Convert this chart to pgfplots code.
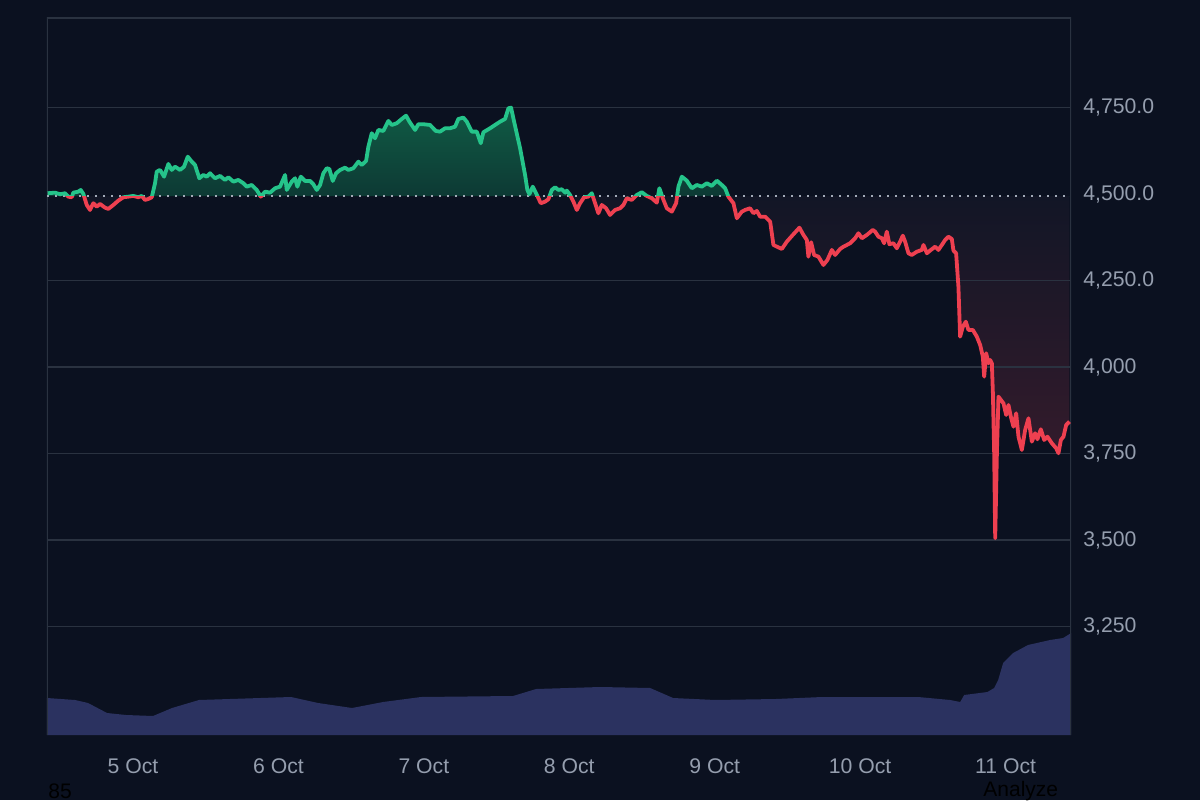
\documentclass[border=0pt]{standalone}
\usepackage{pgfplots}
\pgfplotsset{compat=1.18}
\usepackage{pgfplotstable}
\usepackage{fontspec}
\setmainfont{Liberation Sans}
\definecolor{bg}{HTML}{0B1120}
\definecolor{gridc}{HTML}{2A3240}
\definecolor{tickc}{HTML}{959EAE}
\definecolor{gline}{HTML}{25C48A}
\definecolor{rline}{HTML}{EE4050}
\definecolor{gtop}{HTML}{105C45}
\definecolor{gbot}{HTML}{0D3934}
\definecolor{rtop}{HTML}{121626}
\definecolor{rbot}{HTML}{3E1C2D}
\definecolor{volc}{HTML}{2B3260}
\definecolor{basec}{HTML}{A3ABB8}
\pgfdeclareverticalshading{gshade}{100bp}{color(0bp)=(gbot); color(64.7bp)=(gbot); color(75bp)=(gtop); color(100bp)=(gtop)}
\pgfdeclareverticalshading{rshade}{100bp}{color(0bp)=(rbot); color(25bp)=(rbot); color(64.7bp)=(rtop); color(100bp)=(rtop)}

\pgfplotstableread{
h p
-14.10 4502.6
-12.87 4504.3
-12.05 4499.7
-11.22 4502.6
-10.68 4492.7
-10.12 4491.0
-9.85 4504.3
-9.03 4507.2
-8.63 4512.1
-8.20 4500.5
-7.64 4468.7
-7.10 4454.3
-6.55 4473.7
-5.99 4463.8
-5.45 4471.6
-4.62 4460.9
-4.08 4457.2
-3.25 4468.7
-2.43 4481.2
-1.60 4491.0
-0.78 4492.7
0.05 4494.8
0.87 4491.0
1.44 4494.8
1.98 4483.2
2.53 4486.1
3.09 4491.0
3.63 4531.5
3.91 4565.0
4.46 4569.9
5.12 4550.5
5.83 4587.2
6.39 4569.9
6.93 4579.4
7.76 4569.9
8.42 4579.4
9.03 4608.3
9.69 4593.9
10.23 4584.3
10.94 4545.9
11.60 4555.4
12.16 4550.5
12.71 4560.4
13.53 4545.9
14.36 4552.6
15.19 4541.0
15.73 4548.8
16.56 4536.1
17.38 4541.0
18.21 4531.5
18.77 4521.6
19.59 4526.5
20.42 4512.1
21.08 4492.7
21.79 4507.2
22.61 4504.3
23.44 4517.0
24.26 4521.6
25.09 4555.4
25.37 4512.1
26.19 4536.1
26.74 4545.9
27.12 4521.6
27.68 4550.5
28.39 4538.1
29.22 4538.1
29.76 4528.6
30.32 4512.1
30.87 4526.5
31.41 4560.4
31.97 4574.8
32.40 4572.8
32.96 4538.1
33.51 4560.4
34.17 4569.9
34.99 4576.5
35.54 4569.9
36.36 4574.8
37.19 4593.9
37.75 4584.3
38.46 4595.9
38.84 4637.2
39.40 4676.0
39.94 4661.5
40.49 4685.5
41.31 4682.6
42.14 4711.5
42.70 4699.9
43.52 4704.9
44.35 4717.3
45.06 4726.8
45.61 4709.5
46.55 4685.5
47.09 4702.0
47.92 4702.0
49.02 4699.9
49.96 4682.6
50.67 4680.6
51.50 4690.4
52.32 4690.4
53.15 4695.0
53.69 4717.3
54.52 4721.0
55.08 4709.5
55.91 4680.6
56.73 4680.6
57.39 4647.1
57.82 4678.9
58.93 4690.4
59.75 4699.9
60.58 4709.5
61.40 4717.3
61.95 4748.2
62.39 4749.9
62.89 4709.5
63.88 4632.6
64.70 4555.4
65.08 4512.1
65.41 4499.7
65.97 4521.6
66.52 4502.6
67.29 4473.7
68.00 4478.3
68.55 4485.2
69.11 4512.1
69.66 4519.9
70.20 4512.1
70.76 4514.1
71.31 4504.3
71.59 4510.1
72.13 4497.6
72.68 4478.3
73.24 4454.3
73.78 4473.7
74.44 4491.0
75.15 4492.7
75.71 4502.6
76.26 4473.7
76.80 4444.8
77.36 4468.7
78.07 4459.2
78.73 4439.8
79.56 4454.3
80.38 4459.2
80.93 4468.7
81.49 4488.1
82.31 4483.2
83.14 4497.6
83.97 4505.5
84.79 4494.8
85.62 4488.1
86.44 4475.4
86.87 4517.0
87.43 4488.1
88.09 4459.2
88.92 4449.4
89.63 4473.7
90.01 4521.6
90.57 4550.5
91.39 4539.0
92.22 4517.0
93.04 4526.5
93.87 4521.6
94.70 4531.5
95.52 4523.7
96.35 4539.0
97.17 4526.5
97.72 4517.0
98.26 4492.7
99.09 4473.7
99.65 4430.3
100.47 4449.4
101.01 4454.3
101.84 4459.2
102.39 4444.8
102.95 4451.4
103.49 4434.9
104.32 4434.9
105.15 4420.5
105.69 4353.1
106.25 4348.2
107.08 4341.6
107.90 4362.7
108.99 4384.1
109.98 4403.1
110.64 4382.0
111.20 4367.6
111.46 4319.3
111.91 4361.0
112.40 4324.2
113.12 4319.3
113.94 4295.3
114.60 4309.8
115.33 4338.7
115.87 4324.2
116.70 4341.6
117.24 4348.2
117.80 4353.1
118.35 4358.1
119.17 4372.5
119.72 4387.0
120.28 4372.5
121.10 4382.0
122.09 4396.5
122.47 4391.6
123.02 4377.1
123.58 4372.5
123.96 4358.1
124.40 4391.6
124.83 4355.2
125.49 4358.1
126.05 4343.6
126.60 4362.7
127.04 4380.0
127.42 4362.7
127.97 4329.2
128.53 4324.2
129.36 4333.8
130.18 4338.7
130.45 4353.1
131.01 4329.2
131.67 4338.7
132.38 4348.2
132.92 4338.7
133.48 4353.1
134.03 4367.6
134.57 4377.1
135.13 4370.5
135.40 4336.7
135.84 4329.2
136.22 4232.6
136.50 4088.1
136.95 4117.0
137.44 4131.5
137.87 4107.5
138.60 4107.5
139.26 4088.1
139.81 4064.1
140.25 4030.3
140.47 3972.5
140.80 4040.2
141.18 4011.2
141.46 4020.8
141.74 4011.2
141.91 3924.6
142.12 3751.2
142.29 3505.5
142.57 3751.2
142.83 3914.7
143.23 3905.2
143.65 3895.7
144.10 3861.8
144.48 3890.7
144.87 3856.9
145.30 3828.0
145.75 3866.8
146.13 3799.1
146.69 3760.7
147.23 3818.5
147.78 3852.3
148.34 3784.7
148.88 3809.0
149.26 3791.6
149.82 3820.5
150.37 3789.6
150.91 3799.1
151.64 3780.1
152.35 3765.6
152.73 3751.2
153.13 3789.6
153.56 3799.1
154.00 3832.9
154.55 3842.5
}\pricedata

\pgfplotstableread{
h v
-14.20 37
-9.57 35
-7.43 32
-4.29 22
-1.16 20
3.30 19
6.44 27
10.89 35
16.01 36
26.08 38
30.54 32
36.15 27
41.27 33
47.54 38
62.72 39
66.52 46
77.08 48
85.34 47
89.13 37
96.07 35
106.13 36
113.73 38
129.57 38
134.86 35
136.51 33
137.17 40
141.00 43
142.12 47
142.78 55
143.60 72
145.25 82
147.70 90
151.36 95
153.50 97
154.83 102
}\voldata

\begin{document}
\begin{tikzpicture}
\useasboundingbox (-23.5pt,-32.5pt) rectangle (576.5pt,367.5pt);
\fill[bg] (-23.5pt,-32.5pt) rectangle (576.5pt,367.5pt);

% volume
\begin{axis}[scale only axis, width=512pt, height=358.5pt, at={(0pt,0pt)}, anchor=south west,
  xmin=-14.2, xmax=154.8, ymin=0, ymax=717, hide axis]
\addplot[fill=volc, draw=none] table[x=h,y=v] {\voldata} \closedcycle;
\end{axis}

% price
\begin{axis}[scale only axis, width=512pt, height=358.5pt, at={(0pt,0pt)}, anchor=south west,
  xmin=-14.2, xmax=154.8, ymin=2937, ymax=5009,
  axis line style={draw=none}, major tick length=0pt, tick style={draw=none},
  xtick={0,24,48,72,96,120,144},
  xticklabels={5 Oct,6 Oct,7 Oct,8 Oct,9 Oct,10 Oct,11 Oct},
  xticklabel style={font=\fontsize{10.6}{12}\selectfont, text=tickc, anchor=center, yshift=-15.5pt},
  ytick={3250,3500,3750,4000,4250,4500,4750},
  yticklabels={{3,250},{3,500},{3,750},{4,000},{4,250.0},{4,500.0},{4,750.0}},
  yticklabel pos=right,
  yticklabel style={font=\fontsize{10.6}{12}\selectfont, text=tickc, anchor=west, inner sep=0pt, xshift=6pt},
  clip=true]
\begin{scope}
\clip (axis cs:-20,4494) rectangle (axis cs:160,5100);
\addplot[shading=gshade, draw=none] table[x=h,y=p] {\pricedata} -- (axis cs:154.55,4494) -- (axis cs:-14.10,4494) -- cycle;
\end{scope}
\begin{scope}
\clip (axis cs:-20,2900) rectangle (axis cs:160,4494);
\addplot[shading=rshade, draw=none] table[x=h,y=p] {\pricedata} -- (axis cs:154.55,4494) -- (axis cs:-14.10,4494) -- cycle;
\end{scope}
\pgfplotsinvokeforeach{3250,3500,3750,4000,4250,4750}{
  \draw[gridc, line width=0.8pt] (axis cs:-14.2,#1) -- (axis cs:154.8,#1);
}
\draw[gridc, line width=0.8pt] (rel axis cs:0,0) -- (rel axis cs:0,1) -- (rel axis cs:1,1) -- (rel axis cs:1,0);
\addplot[basec, line width=1pt, dash pattern=on 1pt off 3pt] coordinates {(-14.2,4494) (154.8,4494)};
\begin{scope}
\clip (axis cs:-20,4494) rectangle (axis cs:160,5100);
\addplot[gline, line width=1.9pt, line join=round] table[x=h,y=p] {\pricedata};
\end{scope}
\begin{scope}
\clip (axis cs:-20,2900) rectangle (axis cs:160,4494);
\addplot[rline, line width=1.9pt, line join=round] table[x=h,y=p] {\pricedata};
\end{scope}
\end{axis}

\node[anchor=north west, inner sep=0pt, text=black, font=\fontsize{10.5}{12}\selectfont] at (0.5pt,-24pt) {85};
\node[anchor=north west, inner sep=0pt, text=black, font=\fontsize{10.5}{12}\selectfont] at (468pt,-23pt) {Analyze};
\end{tikzpicture}
\end{document}
